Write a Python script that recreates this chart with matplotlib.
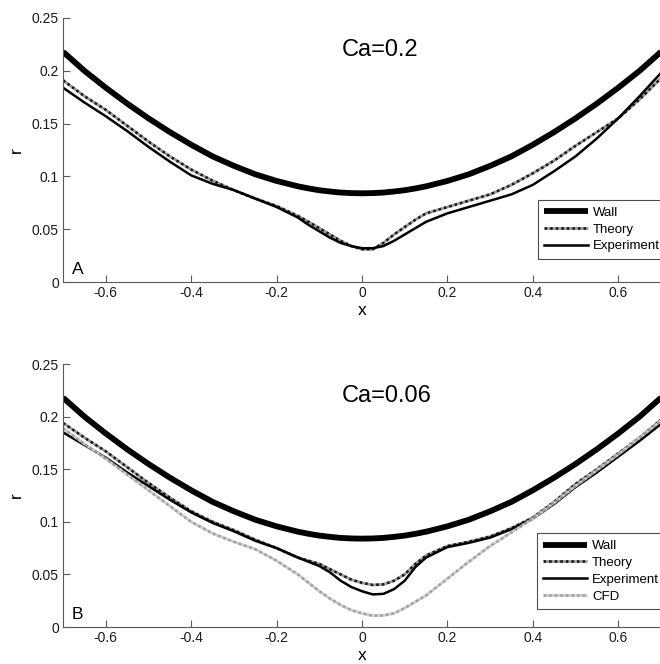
import matplotlib
matplotlib.use("Agg")
import matplotlib.pyplot as plt

plt.rcParams['font.family'] = ['Liberation Sans', 'DejaVu Sans']
plt.rcParams['axes.unicode_minus'] = False

# values
x = [-0.7, -0.65, -0.6, -0.55, -0.5, -0.45, -0.4, -0.35, -0.3, -0.25, -0.2,
     -0.15, -0.125, -0.1, -0.075, -0.05, -0.025, 0.0, 0.025, 0.05, 0.075, 0.1, 0.125, 0.15,
     0.2, 0.25, 0.3, 0.35, 0.4, 0.45, 0.5, 0.55, 0.6, 0.65, 0.7]

wall = [.218, .200, .184, .169, .155, .142, .130, .119, .110, .102, .0957,
        .0906, .0886, .0869, .0857, .0847, .0842, .0840, .0842, .0847, .0857, .0869, .0886, .0906,
        .0957, .102, .110, .119, .130, .142, .155, .169, .184, .200, .218]

theory_a = [.191, .176, .163, .148, .133, .119, .1065, .096, .087, .079, .072,
            .0625, .057, .051, .045, .039, .034, .031, .031, .037, .045, .052, .059, .065,
            .071, .077, .083, .092, .103, .115, .129, .142, .155, .173, .193]
exp_a = [.184, .170, .157, .143, .128, .114, .101, .093, .087, .079, .071,
         .061, .054, .048, .042, .037, .034, .032, .032, .034, .039, .045, .051, .057,
         .065, .071, .077, .083, .092, .105, .119, .136, .155, .176, .198]

theory_b = [.194, .180, .167, .152, .137, .123, .110, .100, .092, .083, .075,
            .066, .063, .060, .055, .050, .045, .042, .040, .0405, .044, .050, .060, .068,
            .077, .081, .086, .094, .104, .119, .136, .150, .165, .180, .197]
exp_b = [.185, .173, .161, .147, .134, .121, .109, .099, .091, .082, .075,
         .066, .062, .058, .052, .044, .038, .034, .031, .0315, .036, .044, .057, .066,
         .076, .080, .085, .093, .103, .117, .133, .147, .162, .177, .193]
cfd_b = [.189, .174, .160, .145, .130, .115, .100, .089, .081, .074, .063,
         .050, .042, .034, .027, .021, .016, .013, .0108, .011, .013, .018, .024, .030,
         .046, .062, .077, .090, .103, .118, .134, .149, .164, .180, .196]

xticks = [-0.6, -0.4, -0.2, 0, 0.2, 0.4, 0.6]
xticklabels = ['-0.6', '-0.4', '-0.2', '0', '0.2', '0.4', '0.6']
yticks = [0, 0.05, 0.1, 0.15, 0.2, 0.25]
yticklabels = ['0', '0.05', '0.1', '0.15', '0.2', '0.25']

fig = plt.figure(figsize=(6.6, 6.64), dpi=100)
ax_a = fig.add_axes([0.0955, 0.5753, 0.906, 0.3976])
ax_b = fig.add_axes([0.0955, 0.0557, 0.906, 0.3961])


def style(ax, letter, ca, leg_anchor):
    ax.set_xlim(-0.7, 0.7)
    ax.set_ylim(0, 0.25)
    for s in ['top', 'right']:
        ax.spines[s].set_visible(False)
    for s in ['left', 'bottom']:
        ax.spines[s].set_color('0.35')
        ax.spines[s].set_linewidth(0.8)
    ax.set_xticks(xticks)
    ax.set_xticklabels(xticklabels)
    ax.set_yticks(yticks)
    ax.set_yticklabels(yticklabels)
    ax.tick_params(direction='in', length=5, width=0.8, color='0.35',
                   labelsize=10, pad=3, labelcolor='0.1')
    ax.set_xlabel('x', fontsize=12.5, labelpad=2)
    ax.set_ylabel('r', fontsize=12.5, labelpad=6)
    ax.text(-0.68, 0.008, letter, fontsize=12.5, ha='left', va='baseline')
    ax.text(-0.047, 0.22, ca, fontsize=17, ha='left', va='center')
    leg = ax.legend(loc='upper left', bbox_to_anchor=leg_anchor, fontsize=9.5,
                    frameon=True, fancybox=False, framealpha=1, edgecolor='0.3',
                    borderaxespad=0, handlelength=3.3, labelspacing=0.35,
                    handletextpad=0.4, borderpad=0.5)
    leg.get_frame().set_linewidth(0.8)


ax_a.plot(x, wall, color='black', lw=4.2, solid_capstyle='butt', label='Wall')
ax_a.plot(x, theory_a, color='0.1', gapcolor='0.6', ls=(0, (1, 1)), lw=2, label='Theory')
ax_a.plot(x, exp_a, color='black', lw=1.8, label='Experiment')
style(ax_a, 'A', 'Ca=0.2', (0.794, 0.311))

ax_b.plot(x, wall, color='black', lw=4.2, solid_capstyle='butt', label='Wall')
ax_b.plot(x, theory_b, color='0.1', gapcolor='0.6', ls=(0, (1, 1)), lw=2, label='Theory')
ax_b.plot(x, exp_b, color='black', lw=1.8, label='Experiment')
ax_b.plot(x, cfd_b, color='0.62', gapcolor='0.8', ls=(0, (1, 1)), lw=2, label='CFD')
style(ax_b, 'B', 'Ca=0.06', (0.792, 0.356))

fig.savefig('out.png', dpi=100)
